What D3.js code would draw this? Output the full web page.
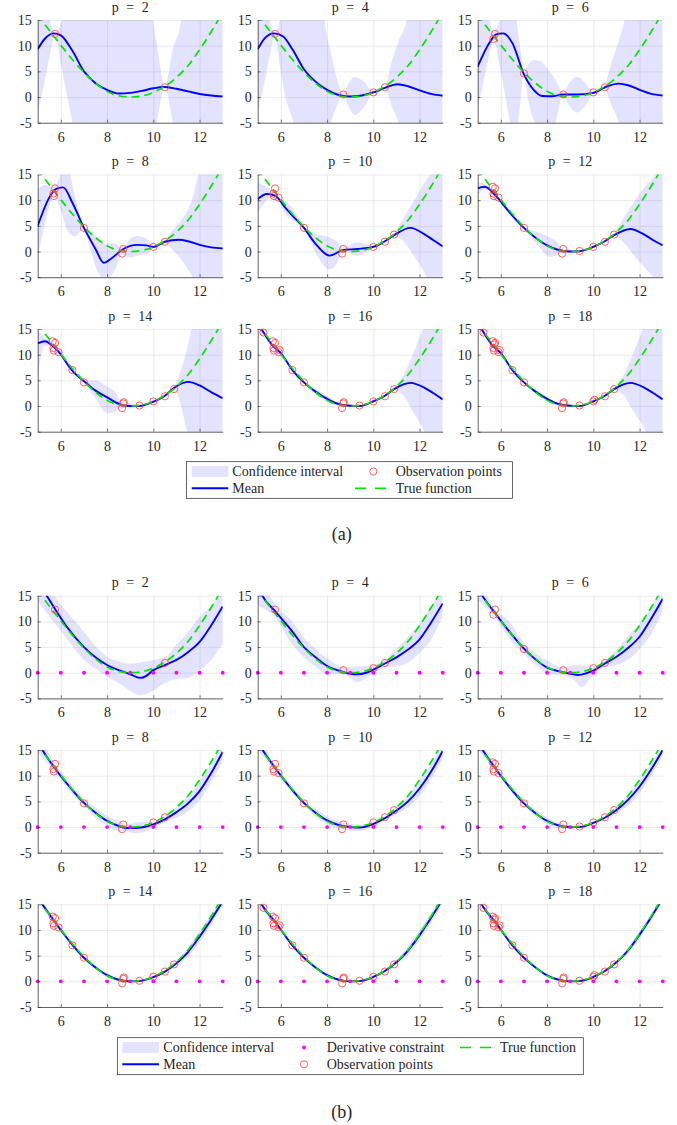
<!DOCTYPE html>
<html>
<head>
<meta charset="utf-8">
<script src="https://cdn.jsdelivr.net/npm/d3@7"></script>
<style>
  body { margin: 0; background: #fff; }
  svg text { font-family: "Liberation Serif", "DejaVu Serif", serif; fill: #262626; }
</style>
</head>
<body>
<svg id="fig"></svg>
<script>
// ---- data ----
const pValues = [2, 4, 6, 8, 10, 12, 14, 16, 18];
const xTicks = [6, 8, 10, 12];
const yTicks = [-5, 0, 5, 10, 15];

// observation points in the order they are added (panel p shows the first p)
const obsX = [5.75, 10.5, 8.7, 10.0, 5.68, 7.0, 8.65, 5.7, 10.9, 5.9, 9.4, 5.65, 6.5, 8.72, 5.25, 5.95, 10.05, 5.72];
const obsY = [12.3, 1.9, 0.5, 0.9, 11.3, 4.6, -0.4, 10.8, 3.3, 10.5, 0.1, 12.6, 7.0, 0.75, 14.3, 10.9, 1.2, 12.0];

// true function
const trueX = [5, 5.25, 5.5, 6, 6.5, 7, 7.5, 8, 8.5, 9, 9.5, 10, 10.5, 11, 11.5, 12, 12.5, 13];
const trueY = [16.2, 14.5, 13.0, 10.1, 7.3, 4.8, 2.7, 1.1, 0.25, 0, 0.2, 0.9, 2.1, 3.8, 6.1, 9.2, 12.7, 16.5];

// derivative constraint locations (b)
const derivX = [5, 6, 7, 8, 9, 10, 11, 12, 13];

// (a) posterior means [x, y] and bands [x, lower, upper]
const meanA2 = [[5,9.3],[5.3,11.3],[5.7,12.4],[6,12.0],[6.5,9.0],[7,5.0],[7.5,2.7],[8,1.4],[8.5,0.7],[9,0.8],[9.5,1.2],[10,1.7],[10.45,1.95],[11,1.6],[11.5,1.1],[12,0.6],[12.5,0.3],[13,0.13]];
const bandA2 = [[5,-3.1,40],[5.3,3,25],[5.53,8.2,15],[5.75,12.2,12.5],[6.04,5.5,15],[6.3,-0.5,22],[6.5,-5,30],[6.8,-12,40],[9.8,-12,40],[10.0,-8,15],[10.15,-5,10.5],[10.5,1.8,2.0],[10.85,-5,9.5],[11.2,-12,15],[11.5,-20,40],[13,-20,40]];
const meanA4 = [[5,9.3],[5.3,11.4],[5.7,12.4],[6.1,11.8],[6.5,9.3],[7,5.4],[7.5,3.0],[8,1.4],[8.5,0.4],[9,0.1],[9.5,0.3],[10,0.9],[10.5,1.8],[11.05,2.5],[11.5,2.1],[12,1.3],[12.5,0.6],[13,0.25]];
const bandA4 = [[5,-3.1,40],[5.3,3,25],[5.53,8.2,15],[5.75,12.2,12.5],[5.96,6,15],[6.2,0,22],[6.55,-5,35],[6.9,-12,40],[7.6,-12,40],[7.9,-8,15],[8.15,-5,9],[8.4,-2,4],[8.7,0.4,0.7],[8.9,-1.5,2.5],[9.2,-3.5,3.9],[9.6,-2,3],[10,0.7,1.1],[10.25,0.8,1.8],[10.5,1.7,2.0],[10.8,-1.8,7],[11.1,-5,11],[11.43,-10,15],[11.8,-20,30],[13,-20,40]];
const meanA6 = [[5,5.9],[5.5,10.5],[5.8,12.2],[6.1,12.4],[6.5,10.5],[7,4.4],[7.4,1.5],[7.8,0.2],[8.2,0.15],[8.7,0.5],[9.3,0.5],[10,0.8],[10.5,1.9],[11.1,2.6],[11.5,2.3],[12,1.4],[12.5,0.6],[13,0.3]];
const bandA6 = [[5,-2.2,14.5],[5.2,2,16.5],[5.45,7,15.5],[5.7,11.1,12.6],[5.95,6,15],[6.2,0,18],[6.4,-5,20],[6.6,-8,17],[6.8,-3,11],[7.0,4.2,4.9],[7.2,-1,6.5],[7.45,-5,7.2],[7.7,-8,7.0],[8.1,-6,5],[8.35,-5,3.5],[8.68,0.3,0.8],[9.0,-2,3],[9.3,-3,4],[9.6,-2,3],[10,0.6,1.1],[10.25,0.9,1.7],[10.45,1.7,2.1],[10.8,-1.8,7],[11.1,-5,11],[11.35,-10,15],[11.8,-20,30],[13,-20,40]];
const meanA8 = [[5,5.0],[5.5,10.5],[5.8,12.2],[6.1,12.5],[6.5,9.5],[7,4.6],[7.5,0.5],[7.85,-2.2],[8.2,-1.3],[8.7,0.5],[9.3,1.3],[9.7,1.2],[10,0.9],[10.5,1.9],[11.1,2.3],[11.5,2.0],[12,1.3],[12.5,0.8],[13,0.6]];
const bandA8 = [[5,-1,12],[5.3,5,13],[5.7,10.8,12.4],[6.0,8,15],[6.3,4,16],[6.6,3,11],[7,4.4,4.8],[7.3,0,4],[7.6,-4,2.8],[7.9,-5.5,1.5],[8.3,-4,1.6],[8.68,-0.5,0.6],[9.0,-1.2,2.5],[9.3,-0.8,3],[9.7,-0.5,2.5],[10,0.7,1.1],[10.5,1.7,2.1],[10.8,0.5,4],[11.2,-1.5,6],[11.7,-5,10.5],[11.95,-7,15],[12.5,-13,25],[13,-20,35]];
const meanA10 = [[5,10.2],[5.4,11.2],[5.75,10.9],[6.2,8.5],[6.5,7.0],[7,4.6],[7.5,1.5],[8.1,-0.8],[8.7,0.3],[9.3,0.5],[10,0.9],[10.5,2.0],[10.9,3.2],[11.6,4.6],[12.2,3.4],[12.6,2.2],[13,1.0]];
const bandA10 = [[5,7.5,13.5],[5.4,10,12.5],[5.75,10.7,11.2],[6.2,7.2,9.8],[6.6,5.8,7.8],[7,4.4,4.8],[7.5,-0.2,3.4],[8.1,-3.5,2.8],[8.4,-2.5,2],[8.68,0.0,0.6],[9.3,-0.8,1.8],[10,0.7,1.1],[10.5,1.8,2.2],[10.9,3.0,3.5],[11.3,2,6.5],[11.7,-0.5,9.5],[12.3,-5,14],[12.45,-6.5,15],[13,-14,25]];
const meanA12 = [[5,12.3],[5.3,12.6],[5.75,11.0],[6.2,8.6],[6.5,7.0],[7,4.6],[7.5,2.7],[8,1.2],[8.5,0.3],[9,0.0],[9.4,0.05],[10,0.9],[10.5,2.0],[10.9,3.2],[11.6,4.4],[12.2,3.3],[12.6,2.2],[13,1.2]];
const bandA12 = [[5,11,13.5],[5.3,12,13.2],[5.75,10.8,11.3],[6.2,8.2,9.2],[6.5,6.8,7.3],[7,4.4,4.8],[7.6,1.2,3.8],[8.1,-1,2.8],[8.4,-0.8,2],[8.68,-0.2,0.6],[9.4,-0.2,0.3],[10,0.7,1.1],[10.5,1.8,2.2],[10.9,3.0,3.5],[11.3,1.8,6.5],[11.8,-1,10],[12.3,-3.5,13],[12.7,-5.5,15],[13,-7,18]];
const meanA14 = [[5,12.2],[5.32,12.6],[5.6,11.9],[5.9,10.6],[6.47,7.0],[7.04,4.7],[7.5,3.0],[8,1.7],[8.63,0.2],[9,0],[9.4,0],[10,0.85],[10.5,2.0],[10.86,3.4],[11.5,4.7],[12,4.0],[12.5,2.7],[13,1.5]];
const bandA14 = [[5,5.5,15],[5.3,11.8,13.3],[5.6,11.5,12.5],[6,9.8,10.8],[6.5,6.8,7.3],[7,4.5,4.9],[7.5,1.5,5.0],[8,-1.4,3.8],[8.3,-1.2,3],[8.65,-0.5,0.8],[9,-0.5,0.6],[9.4,-0.1,0.2],[10,0.7,1.1],[10.5,1.8,2.2],[10.9,3.2,3.6],[11.2,0,7],[11.45,-5,11],[11.65,-8,15],[13,-20,35]];
const meanA16 = [[5,16.3],[5.25,14.35],[5.6,12.0],[6,10.3],[6.5,7.0],[7,4.6],[7.5,2.8],[8,1.4],[8.5,0.4],[9,0.05],[9.4,0],[10,0.9],[10.5,2.0],[10.9,3.3],[11.6,4.5],[12.2,3.6],[12.6,2.5],[13,1.3]];
const bandA16 = [[5,15,17.5],[5.25,14,14.6],[5.6,11.7,12.3],[6,10,10.6],[6.5,6.8,7.2],[7,4.4,4.8],[7.5,2.2,3.4],[8,0.8,2.0],[8.4,0.1,0.8],[8.7,0,0.5],[9.4,-0.2,0.2],[10,0.7,1.1],[10.5,1.8,2.2],[10.9,3.1,3.5],[11.3,2,6],[11.7,-1,10],[12.1,-4,14.5],[12.3,-6,17],[13,-15,30]];
const meanA18 = [[5,16.3],[5.25,14.35],[5.6,12.0],[6,10.3],[6.5,7.0],[7,4.6],[7.5,2.8],[8,1.4],[8.5,0.4],[9,0.05],[9.4,0],[10,0.9],[10.5,2.0],[10.9,3.3],[11.6,4.5],[12.2,3.6],[12.6,2.5],[13,1.3]];
const bandA18 = [[5,15.2,17.3],[5.25,14.1,14.6],[5.6,11.8,12.2],[6,10.1,10.5],[6.5,6.9,7.1],[7,4.5,4.7],[7.5,2.4,3.2],[8,1.0,1.8],[8.4,0.2,0.7],[8.7,0.05,0.45],[9.4,-0.1,0.15],[10,0.75,1.05],[10.5,1.8,2.2],[10.9,3.1,3.5],[11.3,2.2,6],[11.7,-0.8,10],[12.1,-3.5,14.5],[12.4,-6.5,18],[13,-15,30]];

// (b) posterior means and bands with derivative constraints
const meanB2 = [[5,17.5],[5.39,15],[5.75,12.4],[6.25,9.0],[7,5.0],[7.5,3.0],[8,1.5],[8.5,0.5],[9,-0.3],[9.42,-1.0],[9.7,-0.6],[10,0.5],[10.5,1.5],[11,2.5],[11.5,4.0],[12,6.0],[12.5,9.2],[13,12.9]];
const bandB2 = [[5,14,21],[5.5,11,16.5],[6.25,6.7,11.9],[7,2.5,8],[7.5,0.8,5.2],[8,-0.8,3.1],[8.5,-2,2.2],[9,-3.5,1.8],[9.42,-4.4,2],[10,-3.5,2.5],[10.5,-2,3.0],[11,-1.2,5.5],[11.43,-1.1,7.5],[12,0.5,10.9],[12.5,2.5,13],[13,5.7,16]];
const meanB4 = [[5,17],[5.2,15],[5.75,12.0],[6.5,8.0],[7,5.0],[7.5,3.0],[8,1.3],[8.5,0.4],[9,-0.2],[9.3,-0.3],[9.7,0.0],[10,0.6],[10.5,1.8],[11,3.0],[11.5,4.5],[12,6.5],[12.5,9.8],[13,13.5]];
const bandB4 = [[5,13,20],[5.75,10.8,13.3],[6.5,5.5,10],[7,3,6.8],[7.5,1.2,4.6],[8,-0.3,2.8],[8.7,-0.3,1.1],[9.3,-1.8,1.2],[10,-0.2,1.5],[10.5,1.0,2.5],[11,1.2,4.6],[11.5,2.0,7],[12,3.8,9.5],[12.5,6.5,13],[13,11,16]];
const meanB6 = [[5,16.5],[5.2,15],[5.75,11.6],[6.3,8.4],[7,4.7],[7.5,2.6],[8,1.0],[8.5,0.3],[9,-0.2],[9.35,-0.45],[9.7,-0.1],[10,0.4],[10.5,1.8],[11,3.1],[11.5,4.8],[12,7.0],[12.5,10.5],[13,14.4]];
const bandB6 = [[5,14,19],[5.75,10.8,12.3],[6.3,7,10.3],[7,3.6,5.8],[7.5,1.5,3.8],[8,-0.3,2.4],[8.7,-0.5,1.0],[9.2,-1.6,1.5],[9.5,-2.8,1.4],[10,-0.4,1.3],[10.5,1.0,2.3],[11,1.5,4.5],[11.6,2.8,7.7],[12,4.6,9.6],[12.5,7.5,12.7],[13,12,17]];
const meanB8 = [[5,16.5],[5.2,15],[5.75,11.4],[6.5,7.2],[7,4.7],[7.5,2.8],[8,1.2],[8.5,0.2],[8.8,-0.2],[9.2,-0.2],[9.6,0],[10,0.5],[10.5,1.5],[11,2.9],[11.5,4.6],[12,7.0],[12.5,10.5],[13,14.6]];
const bandB8 = [[5,14.5,18.5],[5.75,10.7,12.3],[6.5,6.3,8.2],[7,4.2,5.4],[7.5,1.8,3.8],[8,0.3,2.2],[8.5,-0.8,1.2],[8.8,-0.8,0.5],[9.2,-1.2,0.9],[9.6,-1,1.0],[10,-0.1,1.1],[10.5,1.0,2.2],[11,1.8,3.9],[11.5,3.0,6.2],[12,5.2,8.8],[12.5,8.6,12.4],[13,12.8,16.5]];
const meanB10 = [[5,16.4],[5.75,11.5],[6.5,7.2],[7,4.7],[7.5,2.8],[8,1.3],[8.5,0.4],[9,0],[9.4,-0.1],[10,0.6],[10.5,1.7],[11,3.2],[11.5,5.0],[12,7.5],[12.5,10.8],[13,14.8]];
const bandB10 = [[5,15,18],[5.75,10.9,12.1],[6.5,6.5,7.9],[7,4.3,5.1],[7.5,2.0,3.6],[8,0.5,2.1],[8.5,-0.3,1.1],[9,-0.7,0.7],[9.4,-0.8,0.5],[10,0.2,1.0],[10.5,1.3,2.1],[11,2.5,3.9],[11.5,3.8,6.2],[12,6.0,9.0],[12.5,9.3,12.3],[13,13.3,16.3]];
const meanB12 = [[5,16.4],[5.75,11.5],[6.5,7.1],[7,4.6],[7.5,2.7],[8,1.2],[8.5,0.3],[9,0],[9.4,0],[10,0.8],[10.5,1.8],[11,3.3],[11.5,5.3],[12,7.9],[12.5,11.2],[13,15]];
const bandB12 = [[5,15,17.8],[5.75,11,12],[6.5,6.6,7.6],[7,4.3,4.9],[7.5,2.0,3.4],[8,0.6,1.8],[8.5,-0.2,0.8],[9,-0.4,0.4],[9.4,-0.3,0.3],[10,0.5,1.1],[10.5,1.5,2.1],[11,2.7,3.9],[11.5,4.2,6.4],[12,6.6,9.2],[12.5,10,12.4],[13,14,16]];
const meanB14 = [[5,16.3],[5.75,11.5],[6.5,7.1],[7,4.6],[7.5,2.7],[8,1.2],[8.5,0.3],[9,0],[9.4,0.05],[10,0.8],[10.5,1.9],[11,3.5],[11.5,5.7],[12,8.7],[12.5,12.0],[13,15.6]];
const bandB14 = [[5,15.5,17.1],[5.75,11.1,11.9],[6.5,6.8,7.4],[7,4.4,4.8],[7.5,2.3,3.1],[8,0.8,1.6],[8.5,0,0.6],[9,-0.3,0.3],[9.4,-0.15,0.25],[10,0.6,1.0],[10.5,1.7,2.1],[11,3.1,3.9],[11.5,4.8,6.6],[12,7.6,9.8],[12.5,11.0,13.0],[13,14.8,16.4]];
const meanB16 = [[5,16.3],[5.25,14.4],[5.75,11.6],[6.5,7.0],[7,4.6],[7.5,2.7],[8,1.2],[8.5,0.3],[9,0],[9.4,0.05],[10,0.85],[10.5,2.0],[11,3.7],[11.5,6.0],[12,9.0],[12.5,12.4],[13,16]];
const bandB16 = [[5,15.8,16.8],[5.25,14.0,14.8],[5.75,11.2,12.0],[6.5,6.7,7.3],[7,4.4,4.8],[7.5,2.4,3.0],[8,0.9,1.5],[8.5,0.05,0.55],[9,-0.2,0.2],[9.4,-0.1,0.2],[10,0.65,1.05],[10.5,1.8,2.2],[11,3.3,4.1],[11.5,5.1,6.9],[12,8.0,10.0],[12.5,11.4,13.4],[13,15.2,16.8]];
const meanB18 = [[5,16.3],[5.25,14.4],[5.75,11.6],[6.5,7.0],[7,4.6],[7.5,2.7],[8,1.15],[8.5,0.3],[9,0],[9.4,0.05],[10,0.85],[10.5,2.0],[11,3.7],[11.5,6.0],[12,9.1],[12.5,12.5],[13,16.2]];
const bandB18 = [[5,16.0,16.6],[5.25,14.1,14.7],[5.75,11.3,11.9],[6.5,6.8,7.2],[7,4.45,4.75],[7.5,2.5,2.9],[8,0.95,1.35],[8.5,0.1,0.5],[9,-0.15,0.15],[9.4,-0.1,0.2],[10,0.7,1.0],[10.5,1.85,2.15],[11,3.4,4.0],[11.5,5.4,6.6],[12,8.4,9.8],[12.5,11.8,13.2],[13,15.5,16.9]];

const meansA = [meanA2, meanA4, meanA6, meanA8, meanA10, meanA12, meanA14, meanA16, meanA18];
const bandsA = [bandA2, bandA4, bandA6, bandA8, bandA10, bandA12, bandA14, bandA16, bandA18];
const meansB = [meanB2, meanB4, meanB6, meanB8, meanB10, meanB12, meanB14, meanB16, meanB18];
const bandsB = [bandB2, bandB4, bandB6, bandB8, bandB10, bandB12, bandB14, bandB16, bandB18];

// ---- layout ----
const W = 677, H = 1125;
const colLeft = [37.7, 257.7, 477.7];
const rowTopA = [20, 174.5, 329];
const rowTopB = [595.7, 750, 904.3];
const pw = 185, ph = 102.7;
const FONT = "'Liberation Serif', 'DejaVu Serif', serif";

const bandColor = "#0000ff";
const meanColor = "#0000ff";
const trueColor = "#00e600";
const obsColor = "#ff3b3b";
const derivColor = "#ff00ff";

const svg = d3.select("#fig").attr("width", W).attr("height", H)
  .attr("font-family", FONT);
svg.append("rect").attr("width", W).attr("height", H).attr("fill", "#fff");

svg.append("defs").append("clipPath").attr("id", "plotclip")
  .append("rect").attr("width", pw).attr("height", ph);

const x = d3.scaleLinear().domain([5, 13]).range([0, pw]);
const y = d3.scaleLinear().domain([-5, 15]).range([ph, 0]);

const trueData = trueX.map((v, i) => [v, trueY[i]]);
const obsData = obsX.map((v, i) => [v, obsY[i]]);

const line = d3.line().x(d => x(d[0])).y(d => y(d[1])).curve(d3.curveMonotoneX);
const area = d3.area().x(d => x(d[0])).y0(d => y(d[1])).y1(d => y(d[2])).curve(d3.curveMonotoneX);

function drawPanel(left, top, p, mean, band, withDeriv) {
  const g = svg.append("g").attr("transform", `translate(${left},${top})`);

  // grid
  const gx = g.append("g").attr("transform", `translate(0,${ph})`)
    .call(d3.axisBottom(x).tickValues(xTicks).tickSize(-ph).tickFormat(""));
  const gy = g.append("g")
    .call(d3.axisLeft(y).tickValues(yTicks).tickSize(-pw).tickFormat(""));
  [gx, gy].forEach(a => {
    a.select(".domain").remove();
    a.selectAll("line").attr("stroke", "#e3e3e3").attr("stroke-width", 0.7);
  });

  const c = g.append("g").attr("clip-path", "url(#plotclip)");
  c.append("path").datum(band).attr("d", area)
    .attr("fill", bandColor).attr("fill-opacity", 0.11);
  c.append("path").datum(mean).attr("d", line)
    .attr("fill", "none").attr("stroke", meanColor).attr("stroke-width", 1.9);
  c.append("path").datum(trueData).attr("d", line)
    .attr("fill", "none").attr("stroke", trueColor).attr("stroke-width", 1.7)
    .attr("stroke-dasharray", "8,5");

  g.selectAll("circle.obs").data(obsData.slice(0, p)).enter()
    .append("circle").attr("class", "obs")
    .attr("cx", d => x(d[0])).attr("cy", d => y(d[1])).attr("r", 3.6)
    .attr("fill", "none").attr("stroke", obsColor).attr("stroke-width", 0.8);

  if (withDeriv) {
    g.selectAll("circle.der").data(derivX).enter()
      .append("circle").attr("class", "der")
      .attr("cx", d => x(d)).attr("cy", y(0)).attr("r", 1.9)
      .attr("fill", derivColor);
  }

  // axes
  const ax = g.append("g").attr("transform", `translate(0,${ph})`)
    .call(d3.axisBottom(x).tickValues(xTicks).tickSizeInner(-3).tickSizeOuter(0)
      .tickPadding(9).tickFormat(d => String(d)));
  const ay = g.append("g")
    .call(d3.axisLeft(y).tickValues(yTicks).tickSizeInner(-3).tickSizeOuter(0)
      .tickPadding(6).tickFormat(d => String(d)));
  [ax, ay].forEach(a => {
    a.attr("font-family", FONT).attr("font-size", 14);
    a.select(".domain").attr("stroke", "#262626").attr("stroke-width", 0.7);
    a.selectAll(".tick line").attr("stroke", "#262626").attr("stroke-width", 0.6);
    a.selectAll("text").attr("font-size", 14).attr("fill", "#262626")
      .attr("font-family", FONT);
  });

  g.append("text").attr("x", pw / 2).attr("y", -8.5)
    .attr("text-anchor", "middle").attr("font-size", 14)
    .attr("font-family", FONT)
    .style("word-spacing", "4px")
    .text(`p = ${p}`);
}

pValues.forEach((p, i) => {
  const col = i % 3, row = Math.floor(i / 3);
  drawPanel(colLeft[col], rowTopA[row], p, meansA[i], bandsA[i], false);
  drawPanel(colLeft[col], rowTopB[row], p, meansB[i], bandsB[i], true);
});

// ---- legends ----
function legendBox(bx, by, bw, bh) {
  svg.append("rect").attr("x", bx).attr("y", by).attr("width", bw).attr("height", bh)
    .attr("fill", "#fff").attr("stroke", "#262626").attr("stroke-width", 0.7);
}
function legendText(tx, ty, s) {
  svg.append("text").attr("x", tx).attr("y", ty + 4.6).attr("font-size", 14)
    .attr("font-family", FONT).text(s);
}
function swatch(sx, sy) {
  svg.append("rect").attr("x", sx).attr("y", sy - 5.5).attr("width", 36.6).attr("height", 11)
    .attr("fill", bandColor).attr("fill-opacity", 0.11);
}
function meanKey(sx, sy) {
  svg.append("line").attr("x1", sx).attr("x2", sx + 36.6).attr("y1", sy).attr("y2", sy)
    .attr("stroke", meanColor).attr("stroke-width", 1.9);
}
function trueKey(sx, sy) {
  svg.append("line").attr("x1", sx).attr("x2", sx + 31.7).attr("y1", sy).attr("y2", sy)
    .attr("stroke", trueColor).attr("stroke-width", 1.7).attr("stroke-dasharray", "11,9");
}
function obsKey(cx, cy) {
  svg.append("circle").attr("cx", cx).attr("cy", cy).attr("r", 3.6)
    .attr("fill", "none").attr("stroke", obsColor).attr("stroke-width", 0.8);
}

// (a)
legendBox(186.5, 461.7, 326, 36.6);
swatch(191.7, 471.5); legendText(232.3, 471.5, "Confidence interval");
obsKey(373.3, 471.5); legendText(395.7, 471.5, "Observation points");
meanKey(191.7, 488.3); legendText(232.3, 488.3, "Mean");
trueKey(355, 488.3); legendText(395.7, 488.3, "True function");
svg.append("text").attr("x", 341.7).attr("y", 540).attr("text-anchor", "middle")
  .attr("font-size", 18).attr("font-family", FONT).text("(a)");

// (b)
legendBox(117.3, 1037.7, 466, 37);
swatch(122.3, 1047.5); legendText(163.3, 1047.5, "Confidence interval");
svg.append("circle").attr("cx", 304).attr("cy", 1047.5).attr("r", 1.9).attr("fill", derivColor);
legendText(326.7, 1047.5, "Derivative constraint");
trueKey(460, 1047.5); legendText(500, 1047.5, "True function");
meanKey(122.3, 1064.3); legendText(163.3, 1064.3, "Mean");
obsKey(304, 1064.3); legendText(326.7, 1064.3, "Observation points");
svg.append("text").attr("x", 341.7).attr("y", 1117.5).attr("text-anchor", "middle")
  .attr("font-size", 18).attr("font-family", FONT).text("(b)");
</script>
</body>
</html>
